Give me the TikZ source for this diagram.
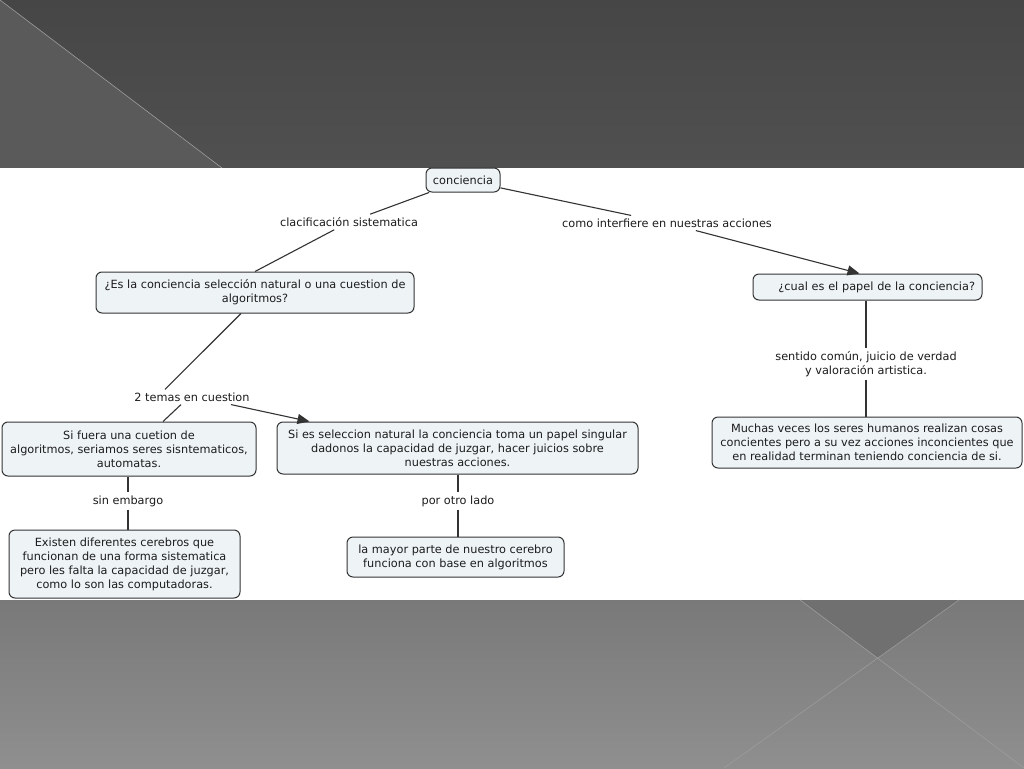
\documentclass[tikz,border=0pt]{standalone}
\usepackage{fontspec}
\setmainfont{DejaVu Sans}
\usepackage{xcolor}
\usetikzlibrary{positioning, arrows.meta}
\definecolor{boxfill}{HTML}{EEF3F6}
\definecolor{boxline}{HTML}{333333}
\definecolor{inkgray}{HTML}{1C1C1C}
\definecolor{bandtop}{HTML}{464646}
\definecolor{bandbot}{HTML}{505050}
\definecolor{wedge}{HTML}{5A5A5A}
\definecolor{lowtop}{HTML}{797979}
\definecolor{lowbot}{HTML}{8F8F8F}
\definecolor{lowdark}{HTML}{707070}
\definecolor{edgeline}{HTML}{9C9C9C}

\begin{document}
\begin{tikzpicture}[x=1pt, y=-1pt,
  concept/.style={draw=boxline, fill=boxfill, rounded corners=6pt, line width=1pt,
                  align=center, text=inkgray, inner sep=0pt,
                  font=\fontsize{11.3}{14}\selectfont},
  linkword/.style={align=center, text=inkgray, inner sep=3pt,
                   font=\fontsize{11.3}{14}\selectfont},
  conn/.style={draw=boxline, line width=1.1pt},
  arrow/.style={conn, -{Triangle[length=12pt, width=10pt]}}
]
\useasboundingbox (0,0) rectangle (1024,768);

% slide background
\fill[top color=bandtop, bottom color=bandbot] (0,0) rectangle (1024,168);
\fill[wedge] (0,0) -- (222,168) -- (0,168) -- cycle;
\draw[edgeline, line width=0.6pt] (0,0) -- (222,168);
\fill[white] (0,168) rectangle (1024,600);
\fill[top color=lowtop, bottom color=lowbot] (0,600) rectangle (1024,768);
\fill[lowdark] (800,600) -- (959,600) -- (878,658) -- cycle;
\draw[edgeline, line width=0.6pt] (800,600) -- (1024,768);
\draw[edgeline, line width=0.6pt] (959,600) -- (724,768);

% concepts
\node[concept, minimum width=74pt, minimum height=24pt] (conc) at (463,180) {conciencia};
\node[concept, minimum width=318pt, minimum height=41pt] (Q1) at (255,292.5)
  {¿Es la conciencia selección natural o una cuestion de\\algoritmos?};
\node[concept, minimum width=229pt, minimum height=26pt, text width=215pt, align=right] (Q2) at (867.5,287)
  {¿cual es el papel de la conciencia?};
\node[concept, minimum width=254pt, minimum height=54pt] (A1) at (129,449)
  {Si fuera una cuetion de\\algoritmos, seriamos seres sisntematicos,\\automatas.};
\node[concept, minimum width=361pt, minimum height=52pt] (A2) at (457.5,448)
  {Si es seleccion natural la conciencia toma un papel singular\\dadonos la capacidad de juzgar, hacer juicios sobre\\nuestras acciones.};
\node[concept, minimum width=231pt, minimum height=68pt] (B1) at (124.5,564)
  {Existen diferentes cerebros que\\funcionan de una forma sistematica\\pero les falta la capacidad de juzgar,\\como lo son las computadoras.};
\node[concept, minimum width=217pt, minimum height=40pt] (B2) at (455.5,557)
  {la mayor parte de nuestro cerebro\\funciona con base en algoritmos};
\node[concept, minimum width=310pt, minimum height=51pt] (C1) at (867,442.5)
  {Muchas veces los seres humanos realizan cosas\\concientes pero a su vez acciones inconcientes que\\en realidad terminan teniendo conciencia de si.};

% linking words
\node[linkword] (L1) at (349,222) {clacificación sistematica};
\node[linkword] (L2) at (667,223) {como interfiere en nuestras acciones};
\node[linkword] (L3) at (192,397) {2 temas en cuestion};
\node[linkword] (L4) at (866,364) {sentido común, juicio de verdad\\y valoración artistica.};
\node[linkword] (L5) at (128,501) {sin embargo};
\node[linkword] (L6) at (458,501) {por otro lado};

% connections
\draw[conn]  (conc) -- (L1);
\draw[conn]  (L1) -- (Q1.north);
\draw[conn]  (conc) -- (L2);
\draw[arrow] (L2) -- ([xshift=-8pt]Q2.north);
\draw[conn]  ([xshift=-14pt]Q1.south) -- ([xshift=-27pt]L3.north);
\draw[conn]  ([xshift=-11pt]L3.south) -- ([xshift=34pt]A1.north);
\draw[arrow] ([xshift=39pt]L3.south) -- ([xshift=-148pt]A2.north);
\draw[conn]  (Q2.south -| L4) -- (L4);
\draw[conn]  (L4) -- (L4 |- C1.north);
\draw[conn]  (L5 |- A1.south) -- (L5);
\draw[conn]  (L5) -- (L5 |- B1.north);
\draw[conn]  (L6 |- A2.south) -- (L6);
\draw[conn]  (L6) -- (L6 |- B2.north);
\end{tikzpicture}
\end{document}
